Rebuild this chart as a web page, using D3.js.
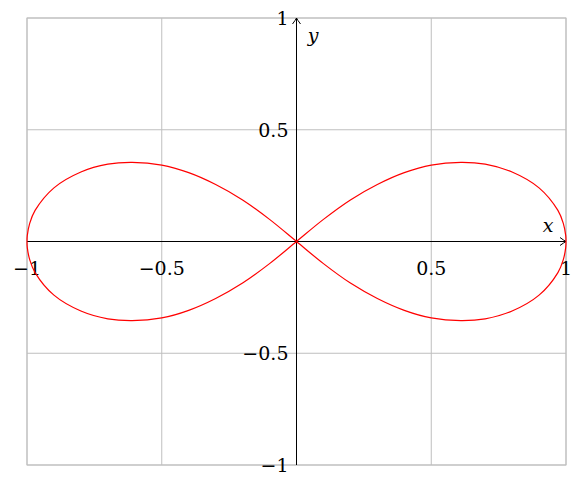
<!DOCTYPE html>
<html><head><meta charset="utf-8">
<script src="https://cdn.jsdelivr.net/npm/d3@7"></script>
<style>body{margin:0;background:#fff}text{font-family:"DejaVu Serif",serif;font-size:19px}</style>
</head><body><div id="chart"></div>
<script>
// points, traced in drawing order
const curveX = [0, 0.1, 0.2, 0.3, 0.4, 0.5, 0.61, 0.7, 0.8, 0.9, 0.97, 0.99, 0.999, 1,
  0.999, 0.99, 0.97, 0.9, 0.8, 0.7, 0.61, 0.5, 0.4, 0.3, 0.2, 0.1,
  0, -0.1, -0.2, -0.3, -0.4, -0.5, -0.61, -0.7, -0.8, -0.9, -0.97, -0.99, -0.999, -1,
  -0.999, -0.99, -0.97, -0.9, -0.8, -0.7, -0.61, -0.5, -0.4, -0.3, -0.2, -0.1];
const curveY = [0, 0.099, 0.186, 0.255, 0.308, 0.342, 0.354, 0.346, 0.311, 0.24, 0.139, 0.081, 0.026, 0,
  -0.026, -0.081, -0.139, -0.24, -0.311, -0.346, -0.354, -0.342, -0.308, -0.255, -0.186, -0.099,
  0, 0.099, 0.186, 0.255, 0.308, 0.342, 0.354, 0.346, 0.311, 0.24, 0.139, 0.081, 0.026, 0,
  -0.026, -0.081, -0.139, -0.24, -0.311, -0.346, -0.354, -0.342, -0.308, -0.255, -0.186, -0.099];
const gridVals = [-1, -0.5, 0.5, 1];
const tickLabels = ["\u22121", "\u22120.5", "0.5", "1"];

const svg = d3.select("#chart").append("svg").attr("width", 583).attr("height", 486);
const x = d3.scaleLinear().domain([-1, 1]).range([27, 566]);
const y = d3.scaleLinear().domain([-1, 1]).range([465, 18]);

svg.append("rect").attr("x", x(-1)).attr("y", y(1)).attr("width", x(1) - x(-1)).attr("height", y(-1) - y(1))
  .attr("fill", "none").attr("stroke", "#bfbfbf");
gridVals.forEach(v => {
  svg.append("line").attr("x1", x(v)).attr("x2", x(v)).attr("y1", y(1)).attr("y2", y(-1)).attr("stroke", "#bfbfbf");
  svg.append("line").attr("y1", y(v)).attr("y2", y(v)).attr("x1", x(-1)).attr("x2", x(1)).attr("stroke", "#bfbfbf");
});

// axes through the origin
svg.append("line").attr("x1", x(-1)).attr("x2", x(1)).attr("y1", y(0)).attr("y2", y(0)).attr("stroke", "#000");
svg.append("line").attr("x1", x(0)).attr("x2", x(0)).attr("y1", y(-1)).attr("y2", y(1)).attr("stroke", "#000");
svg.append("path").attr("d", `M${x(1)-6},${y(0)-4} Q${x(1)-2},${y(0)-1} ${x(1)},${y(0)} Q${x(1)-2},${y(0)+1} ${x(1)-6},${y(0)+4}`)
  .attr("fill", "none").attr("stroke", "#000");
svg.append("path").attr("d", `M${x(0)-4},${y(1)+6} Q${x(0)-1},${y(1)+2} ${x(0)},${y(1)} Q${x(0)+1},${y(1)+2} ${x(0)+4},${y(1)+6}`)
  .attr("fill", "none").attr("stroke", "#000");

gridVals.forEach((v, i) => {
  svg.append("text").attr("x", x(v)).attr("y", y(0) + 33).attr("text-anchor", "middle").text(tickLabels[i]);
  svg.append("text").attr("x", x(0) - 8).attr("y", y(v) + 7).attr("text-anchor", "end").text(tickLabels[i]);
});
svg.append("text").attr("x", 548).attr("y", 232).attr("font-style", "italic").attr("text-anchor", "middle").text("x");
svg.append("text").attr("x", 313).attr("y", 42).attr("font-style", "italic").attr("text-anchor", "middle").text("y");

const pts = curveX.map((v, i) => [v, curveY[i]]);
svg.append("path").datum(pts)
  .attr("d", d3.line().x(d => x(d[0])).y(d => y(d[1])).curve(d3.curveCatmullRomClosed))
  .attr("fill", "none").attr("stroke", "#ff0000").attr("stroke-width", 1.2);
</script></body></html>
